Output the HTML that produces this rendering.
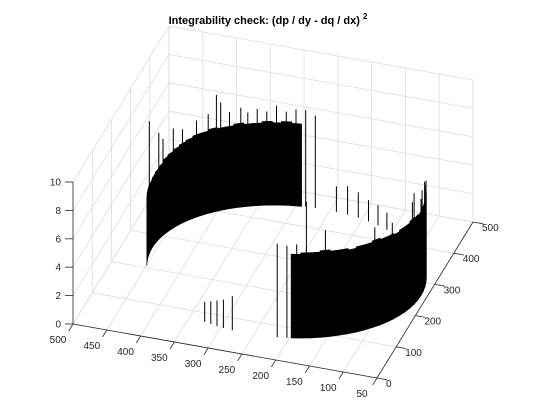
<!DOCTYPE html>
<html><head><meta charset="utf-8"><style>
body{margin:0;background:#fff}
svg{display:block;font-family:"Liberation Sans",sans-serif}
</style></head><body>
<svg id="chart" width="560" height="420" viewBox="0 0 560 420" xmlns="http://www.w3.org/2000/svg">
<rect width="560" height="420" fill="#fff"/>
<text x="268" y="24" text-anchor="middle" font-size="11" font-weight="bold" fill="#000">Integrability check: (dp / dy - dq / dx) <tspan dy="-5" font-size="8">2</tspan></text>
<g id="grid"></g>
<g id="marks"></g>
<g id="axes"></g>
</svg>
<script>
const xTicks=[500,450,400,350,300,250,200,150,100,50];
const yTicks=[0,100,200,300,400,500];
const zTicks=[0,2,4,6,8,10];
// wall heights per 4-degree segment, theta = 0,4,...,356
const wallZ=[4.9,5,5.1,5.3,5.4,5.5,5.6,5.7,5.8,5.8,5.9,5.8,5.8,5.9,5.8,5.8,5.9,5.8,5.9,5.8,
0,0,0,0,0,0,0,0,0,0,0,0,0,0,0,0,0,0,0,0,0,
6,6.1,6,6,5.9,6,6.1,6,6,5.9,6,6,6.1,6,6,5.9,6,6,6.1,6,6,5.9,
0,0,0,0,0,0,0,0,0,0,0,0,0,0,0,0,0,0,0,0,0,0,0,
4.8,4.8,4.8,4.8];
const spikeTheta=[355,8,12,20,26,34,40,44,46,50,55,58,62,66,70,74,78,82,86,95,100,105,110,115,120,140,150,155,160,170,180,190,205,215,238,246,250,254,258,277,281,284,287,290];
const spikeZ=[9.3,7.5,6.8,7,6.6,6.8,7,8.2,7.6,6.8,7,6.6,6.8,6.6,7,6.6,6.8,6.8,6.5,1.8,2,1.8,1.5,1.4,1.2,4,5,6,6.5,7,6.8,7.3,6.8,7,7.5,9.6,6.6,6.5,6.6,2.4,2,1.8,1.6,1.4];
const xc=258,yc=261,R=199;
function P(x,y,z){const u=(500-x)/450,v=y/500;return [73+u*304+v*96, 324+u*54-v*156-z*14.2];}
const NS="http://www.w3.org/2000/svg";
function el(tag,attrs,parent){const e=document.createElementNS(NS,tag);for(const k in attrs)e.setAttribute(k,attrs[k]);parent.appendChild(e);return e;}
const grid=document.getElementById('grid'),axes=document.getElementById('axes'),marks=document.getElementById('marks');
const gc="#dcdcdc";
function line(a,b,parent,col,w){return el('line',{x1:a[0].toFixed(1),y1:a[1].toFixed(1),x2:b[0].toFixed(1),y2:b[1].toFixed(1),stroke:col,'stroke-width':w},parent);}
xTicks.forEach(x=>{
 let g=line(P(x,0,0),P(x,500,0),grid,gc,0.8);
 
 
 g=line(P(x,500,0),P(x,500,10),grid,gc,0.8);
 
 
});
yTicks.forEach(y=>{
 let g=line(P(500,y,0),P(50,y,0),grid,gc,0.8);
 
 
 g=line(P(500,y,0),P(500,y,10),grid,gc,0.8);
 
 
});
zTicks.forEach(z=>{
 let g=line(P(500,0,z),P(500,500,z),grid,gc,0.8);
 
 
 g=line(P(500,500,z),P(50,500,z),grid,gc,0.8);
 
 
});
const items=[];
const rad=d=>d*Math.PI/180;
function ringPt(th,z){return P(xc+R*Math.cos(rad(th)),yc+R*Math.sin(rad(th)),z);}
wallZ.forEach((z,i)=>{
 if(z<=0)return;
 const t0=i*4,t1=i*4+4.3;
 const a=ringPt(t0,0),b=ringPt(t1,0),c=ringPt(t1,z),d=ringPt(t0,z);
 items.push({depth:(a[1]+b[1])/2,kind:'wall',pts:[a,b,c,d]});
});
spikeTheta.forEach((th,i)=>{
 const a=ringPt(th,0),b=ringPt(th,spikeZ[i]);
 items.push({depth:a[1]+0.1,kind:'spike',pts:[a,b]});
});
items.sort((p,q)=>p.depth-q.depth);
items.forEach(it=>{
 if(it.kind==='wall'){
  const e=el('polygon',{points:it.pts.map(p=>p[0].toFixed(1)+','+p[1].toFixed(1)).join(' '),fill:'#000',stroke:'#000','stroke-width':0.6},marks);
  
  
 }else{
  const e=line(it.pts[0],it.pts[1],marks,'#000',1);
  
  
 }
});
const ac="#262626";
let ax=line(P(500,0,0),P(50,0,0),axes,ac,0.8);


ax=line(P(50,0,0),P(50,500,0),axes,ac,0.8);


ax=line(P(500,0,0),P(500,0,10),axes,ac,0.8);


xTicks.forEach(x=>{
 const a=P(x,0,0),b=P(x,-22,0);
 const t=line(a,b,axes,ac,0.8);
 
 
 const lb=el('text',{x:(a[0]-15).toFixed(1),y:(a[1]+19).toFixed(1),'text-anchor':'middle','font-size':10,fill:ac},axes);
 lb.textContent=x;
 
 
});
yTicks.forEach(y=>{
 const a=P(50,y,0),b=P(35,y,0);
 const t=line(a,b,axes,ac,0.8);
 
 
 const lb=el('text',{x:(a[0]+9).toFixed(1),y:(a[1]+9).toFixed(1),'text-anchor':'start','font-size':10,fill:ac},axes);
 lb.textContent=y;
 
 
});
zTicks.forEach(z=>{
 const a=P(500,0,z);
 const t=line(a,[a[0]-8,a[1]],axes,ac,0.8);
 
 
 const lb=el('text',{x:(a[0]-12).toFixed(1),y:(a[1]+3.5).toFixed(1),'text-anchor':'end','font-size':10,fill:ac},axes);
 lb.textContent=z;
 
 
});
</script>
</body></html>
